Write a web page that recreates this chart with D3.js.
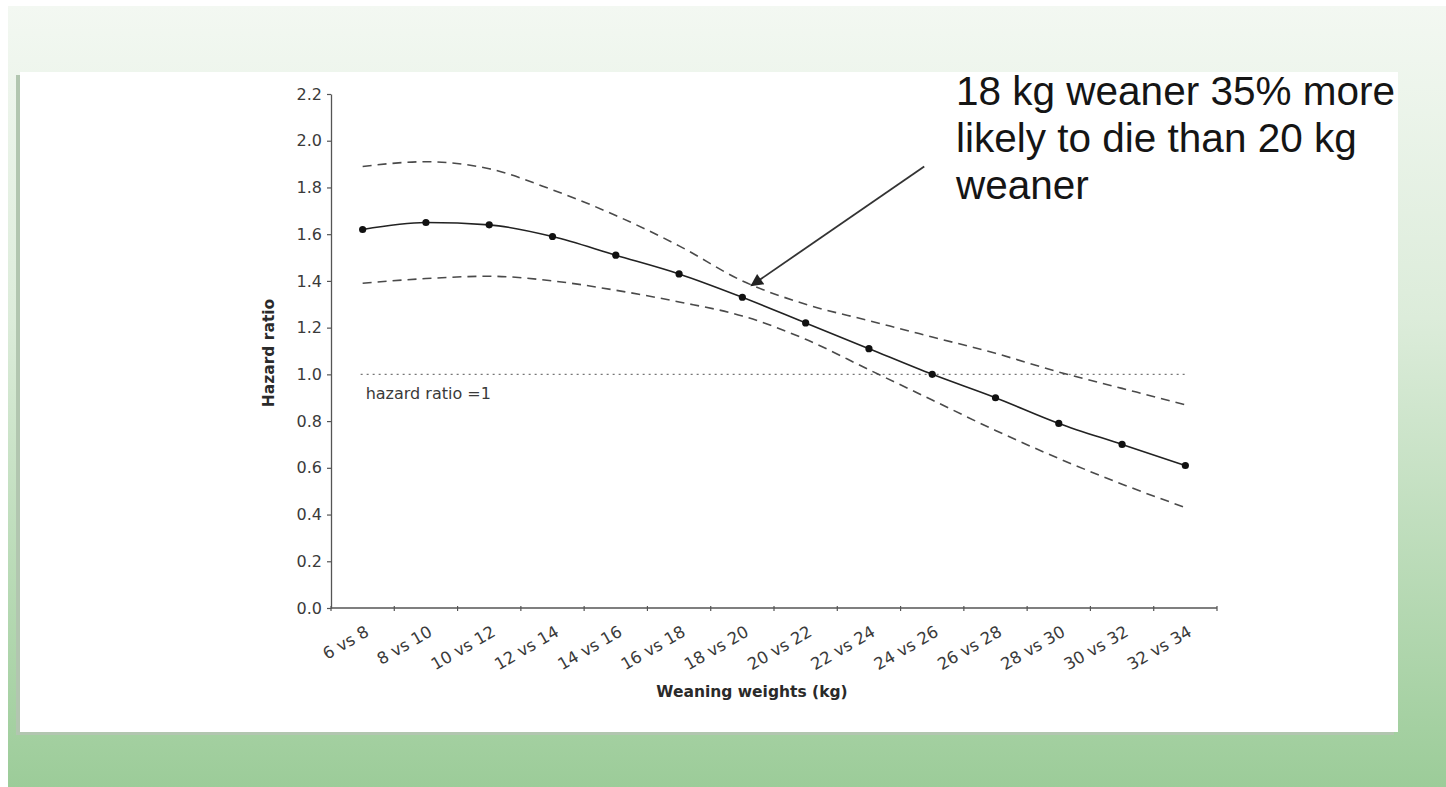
<!DOCTYPE html>
<html>
<head>
<meta charset="utf-8">
<script src="https://cdn.jsdelivr.net/npm/d3@7"></script>
<style>
  html, body { margin: 0; padding: 0; background: #ffffff; }
  svg { display: block; }
</style>
</head>
<body>
<svg id="chart" width="1446" height="787"></svg>
<script>
// Weight pairs compared at weaning
const categories = ["6 vs 8", "8 vs 10", "10 vs 12", "12 vs 14", "14 vs 16", "16 vs 18", "18 vs 20",
  "20 vs 22", "22 vs 24", "24 vs 26", "26 vs 28", "28 vs 30", "30 vs 32", "32 vs 34"];
// Hazard ratio estimate and its confidence limits
const hazardRatio = [1.62, 1.65, 1.64, 1.59, 1.51, 1.43, 1.33, 1.22, 1.11, 1.00, 0.90, 0.79, 0.70, 0.61];
const upperCI = [1.89, 1.91, 1.88, 1.79, 1.68, 1.55, 1.40, 1.30, 1.23, 1.16, 1.09, 1.01, 0.94, 0.87];
const lowerCI = [1.39, 1.41, 1.42, 1.40, 1.36, 1.31, 1.25, 1.15, 1.02, 0.89, 0.76, 0.64, 0.53, 0.43];
const yTicks = [0.0, 0.2, 0.4, 0.6, 0.8, 1.0, 1.2, 1.4, 1.6, 1.8, 2.0, 2.2];
const referenceValue = 1;
const referenceLabel = "hazard ratio =1";
const calloutLines = ["18 kg weaner 35% more", "likely to die than 20 kg", "weaner"];

const W = 1446, H = 787;
const svg = d3.select("#chart");
const defs = svg.append("defs");

// Slide background: pale green at the top fading to a stronger green
const grad = defs.append("linearGradient").attr("id", "bg").attr("x1", 0).attr("y1", 0).attr("x2", 0).attr("y2", 1);
grad.append("stop").attr("offset", "0%").attr("stop-color", "#f3f8f2");
grad.append("stop").attr("offset", "40%").attr("stop-color", "#dcecda");
grad.append("stop").attr("offset", "100%").attr("stop-color", "#9ccc99");

svg.append("rect").attr("width", W).attr("height", H).attr("fill", "#ffffff");
svg.append("rect").attr("x", 8).attr("y", 6).attr("width", W - 8).attr("height", H - 6).attr("fill", "url(#bg)");

// White card with a soft shadow on the lower left
const card = { x: 20, y: 72, w: 1378, h: 660 };
svg.append("rect").attr("x", card.x - 4).attr("y", card.y + 3).attr("width", card.w).attr("height", card.h)
  .attr("fill", "#b2c6b0");
svg.append("rect").attr("x", card.x).attr("y", card.y).attr("width", card.w).attr("height", card.h)
  .attr("fill", "#ffffff");

// Plot geometry
const plot = { left: 331, right: 1217, top: 94, bottom: 608 };

const x = d3.scaleBand().domain(categories).range([plot.left, plot.right]).padding(0);
const xc = c => x(c) + x.bandwidth() / 2;
const y = d3.scaleLinear().domain([0, 2.2]).range([plot.bottom, plot.top]);

const axisColor = "#555";
const textColor = "#3a3a3a";
const chartFont = "'DejaVu Sans', sans-serif";

// Y axis
const yAxis = svg.append("g")
  .attr("transform", `translate(${plot.left},0)`)
  .call(d3.axisLeft(y).tickValues(yTicks).tickFormat(d3.format(".1f")).tickSize(4).tickPadding(5).tickSizeOuter(0));
yAxis.select(".domain").attr("stroke", axisColor).attr("stroke-width", 1.3);
yAxis.selectAll(".tick line").attr("stroke", axisColor).attr("stroke-width", 1.2);
yAxis.selectAll(".tick text").attr("fill", textColor).style("font-family", chartFont).style("font-size", "16px");

// X axis line with ticks on the category boundaries
const xAxis = svg.append("g");
xAxis.append("line")
  .attr("x1", plot.left).attr("x2", plot.right)
  .attr("y1", plot.bottom).attr("y2", plot.bottom)
  .attr("stroke", axisColor).attr("stroke-width", 1.3);
const boundaries = categories.map(c => x(c)).concat([x.range()[1]]);
xAxis.selectAll("line.bt").data(boundaries).join("line").attr("class", "bt")
  .attr("x1", d => d).attr("x2", d => d)
  .attr("y1", plot.bottom - 2).attr("y2", plot.bottom + 3)
  .attr("stroke", axisColor).attr("stroke-width", 1.2);

// Rotated category labels
xAxis.selectAll("text.cat").data(categories).join("text").attr("class", "cat")
  .attr("transform", d => `translate(${xc(d) + 7.5},${plot.bottom + 27}) rotate(-30)`)
  .attr("text-anchor", "end")
  .attr("fill", textColor)
  .style("font-family", chartFont).style("font-size", "16.5px")
  .text(d => d);

// Axis titles
svg.append("text")
  .attr("x", 752).attr("y", 697)
  .attr("text-anchor", "middle")
  .attr("fill", "#2a2a2a")
  .style("font-family", chartFont).style("font-size", "15.5px").style("font-weight", "bold")
  .text("Weaning weights (kg)");
svg.append("text")
  .attr("transform", `translate(274,${(plot.top + plot.bottom) / 2 + 2}) rotate(-90)`)
  .attr("text-anchor", "middle")
  .attr("fill", "#2a2a2a")
  .style("font-family", chartFont).style("font-size", "15.5px").style("font-weight", "bold")
  .text("Hazard ratio");

// Reference line at a hazard ratio of 1
const first = categories[0], last = categories[categories.length - 1];
svg.append("line")
  .attr("x1", xc(first) - 2).attr("x2", xc(last))
  .attr("y1", y(referenceValue)).attr("y2", y(referenceValue))
  .attr("stroke", "#777").attr("stroke-width", 1.3).attr("stroke-dasharray", "2,4");
svg.append("text")
  .attr("x", xc(first) + 3).attr("y", y(referenceValue) + 25)
  .attr("fill", textColor)
  .style("font-family", chartFont).style("font-size", "16px")
  .text(referenceLabel);

// Confidence limits (dashed) and estimate (solid with markers)
const line = d3.line()
  .x((d, i) => xc(categories[i]))
  .y(d => y(d))
  .curve(d3.curveMonotoneX);

[upperCI, lowerCI].forEach(series => {
  svg.append("path")
    .attr("d", line(series))
    .attr("fill", "none")
    .attr("stroke", "#4a4a4a").attr("stroke-width", 1.6)
    .attr("stroke-dasharray", "9,6");
});

svg.append("path")
  .attr("d", line(hazardRatio))
  .attr("fill", "none")
  .attr("stroke", "#222").attr("stroke-width", 1.6);

svg.selectAll("circle.pt").data(hazardRatio).join("circle").attr("class", "pt")
  .attr("cx", (d, i) => xc(categories[i]))
  .attr("cy", d => y(d))
  .attr("r", 3.6)
  .attr("fill", "#111");

// Callout arrow pointing at the 18 vs 20 kg comparison
defs.append("marker")
  .attr("id", "head").attr("viewBox", "0 0 10 10")
  .attr("refX", 9).attr("refY", 5)
  .attr("markerWidth", 8).attr("markerHeight", 7)
  .attr("markerUnits", "strokeWidth")
  .attr("orient", "auto")
  .append("path").attr("d", "M0,0 L10,5 L0,10 Z").attr("fill", "#222");

const tip = [xc("18 vs 20") + 9, y(1.38)];
const tail = [xc("24 vs 26") - 8, y(1.89)];
svg.append("line")
  .attr("x1", tail[0]).attr("y1", tail[1])
  .attr("x2", tip[0]).attr("y2", tip[1])
  .attr("stroke", "#333").attr("stroke-width", 1.8)
  .attr("marker-end", "url(#head)");

// Callout text
svg.append("text")
  .attr("x", 956).attr("y", 105)
  .attr("fill", "#151515")
  .style("font-family", "'Liberation Sans', Arial, sans-serif").style("font-size", "40.5px")
  .selectAll("tspan").data(calloutLines).join("tspan")
  .attr("x", 956).attr("dy", (d, i) => i === 0 ? 0 : 47)
  .text(d => d);
</script>
</body>
</html>
